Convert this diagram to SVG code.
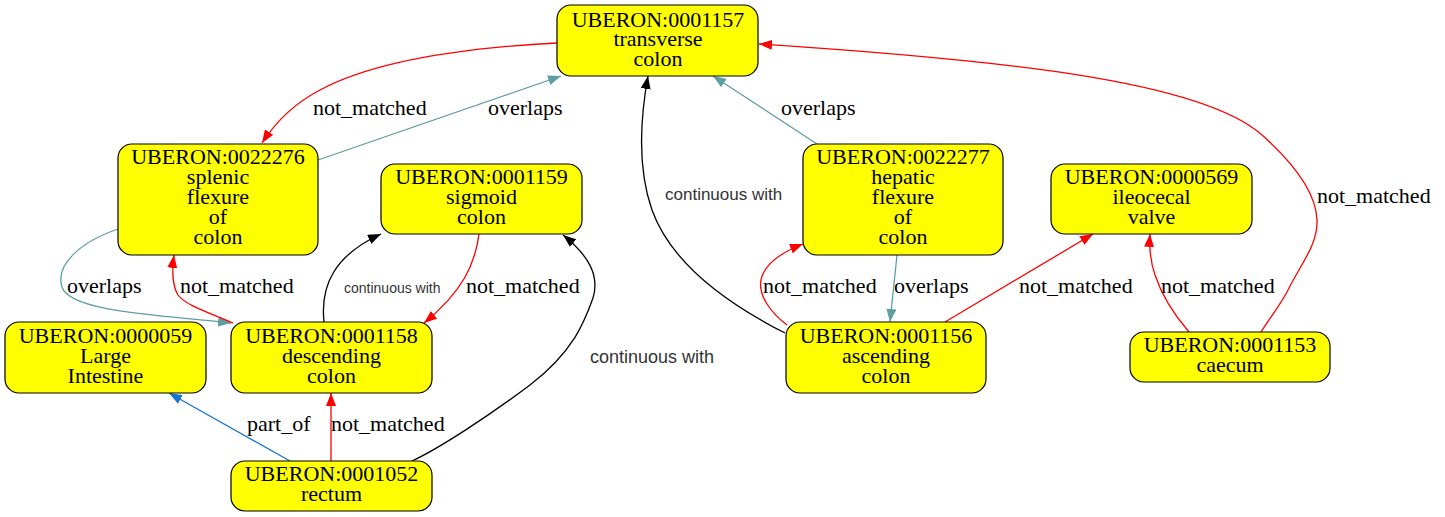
<svg xmlns="http://www.w3.org/2000/svg" width="1445" height="517" viewBox="0 0 1445 517">
<style>
.node rect{fill:#ffff00;stroke:#000;stroke-width:1.2}
.node text{font-family:"Liberation Serif","Times New Roman",serif;font-size:22px;text-anchor:middle;fill:#000}
.e{fill:none;stroke-width:1.3}
.red{stroke:#ff0000}
.teal{stroke:#5f9ea0}
.blk{stroke:#000}
.blue{stroke:#1874cd}
.lbl{font-family:"Liberation Serif","Times New Roman",serif;font-size:22px;fill:#000}
.cw{font-family:"Liberation Sans",Arial,sans-serif;fill:#333}
</style>
<defs>
<marker id="ar" viewBox="0 0 13 10" refX="13" refY="5" markerWidth="13" markerHeight="10" markerUnits="userSpaceOnUse" orient="auto"><path d="M0,0 L13,5 L0,10 z" fill="#ff0000"/></marker>
<marker id="at" viewBox="0 0 13 10" refX="13" refY="5" markerWidth="13" markerHeight="10" markerUnits="userSpaceOnUse" orient="auto"><path d="M0,0 L13,5 L0,10 z" fill="#5f9ea0"/></marker>
<marker id="ak" viewBox="0 0 13 10" refX="13" refY="5" markerWidth="13" markerHeight="10" markerUnits="userSpaceOnUse" orient="auto"><path d="M0,0 L13,5 L0,10 z" fill="#000"/></marker>
<marker id="ab" viewBox="0 0 13 10" refX="13" refY="5" markerWidth="13" markerHeight="10" markerUnits="userSpaceOnUse" orient="auto"><path d="M0,0 L13,5 L0,10 z" fill="#1874cd"/></marker>
</defs>
<rect width="1445" height="517" fill="#fff"/>
<g id="edges">
<path class="e red" marker-end="url(#ar)" d="M557,43 C480,47 380,58 320,90 C295,103 277,120 262,143"/>
<text class="lbl" x="313" y="115">not_matched</text>
<path class="e teal" marker-end="url(#at)" d="M318,160 L561,76"/>
<text class="lbl" x="488" y="115">overlaps</text>
<path class="e teal" marker-end="url(#at)" d="M118,229 C80,242 55,265 62,287 C70,312 160,315 231,323"/>
<text class="lbl" x="67" y="293">overlaps</text>
<path class="e red" marker-end="url(#ar)" d="M233,323 C210,313 185,305 178,295 C172,285 172,270 174,255"/>
<text class="lbl" x="180" y="293">not_matched</text>
<path class="e blk" marker-end="url(#ak)" d="M324,322 C320,285 335,255 381,234"/>
<text class="cw" x="344" y="293" font-size="14" fill="#555">continuous with</text>
<path class="e red" marker-end="url(#ar)" d="M479,234 C475,265 462,292 424,323"/>
<text class="lbl" x="466" y="293">not_matched</text>
<path class="e blue" marker-end="url(#ab)" d="M290,461 L169,393"/>
<text class="lbl" x="247" y="431">part_of</text>
<path class="e red" marker-end="url(#ar)" d="M331,461 L331,393"/>
<text class="lbl" x="331" y="431">not_matched</text>
<path class="e blk" marker-end="url(#ak)" d="M412,461 C440,448 490,415 530,385 C575,350 585,320 593,298 C600,275 588,255 563,235"/>
<text class="cw" x="590" y="363" font-size="18">continuous with</text>
<path class="e blk" marker-end="url(#ak)" d="M785,333 C720,300 670,260 652,210 C638,170 640,120 648,76"/>
<text class="cw" x="665" y="200" font-size="17">continuous with</text>
<path class="e teal" marker-end="url(#at)" d="M817,144 L713,76"/>
<text class="lbl" x="781" y="115">overlaps</text>
<path class="e red" marker-end="url(#ar)" d="M787,325 C770,312 758,295 761,280 C764,265 780,253 803,244"/>
<text class="lbl" x="763" y="293">not_matched</text>
<path class="e teal" marker-end="url(#at)" d="M897,255 L890,322"/>
<text class="lbl" x="894" y="293">overlaps</text>
<path class="e red" marker-end="url(#ar)" d="M945,322 L1093,234"/>
<text class="lbl" x="1019" y="293">not_matched</text>
<path class="e red" marker-end="url(#ar)" d="M1189,332 C1170,310 1160,290 1155,275 C1150,260 1149,248 1150,234"/>
<text class="lbl" x="1161" y="293">not_matched</text>
<path class="e red" marker-end="url(#ar)" d="M1261,332 C1270,318 1280,305 1287,292 C1300,265 1318,245 1317,220 C1316,190 1290,160 1262,135 C1200,80 1000,60 759,44"/>
<text class="lbl" x="1317" y="203">not_matched</text>
</g>
<g id="n1157" class="node"><rect x="557" y="5" width="201" height="71" rx="14"/><text x="658" y="26.5">UBERON:0001157</text><text x="658" y="46">transverse</text><text x="658" y="65.5">colon</text></g>
<g id="n22276" class="node"><rect x="118" y="144" width="200" height="111" rx="14"/><text x="218" y="164">UBERON:0022276</text><text x="218" y="184">splenic</text><text x="218" y="204">flexure</text><text x="218" y="224">of</text><text x="218" y="244">colon</text></g>
<g id="n1159" class="node"><rect x="381" y="164" width="201" height="70" rx="14"/><text x="481.5" y="184">UBERON:0001159</text><text x="481.5" y="204">sigmoid</text><text x="481.5" y="224">colon</text></g>
<g id="n22277" class="node"><rect x="803" y="144" width="200" height="111" rx="14"/><text x="903" y="164">UBERON:0022277</text><text x="903" y="184">hepatic</text><text x="903" y="204">flexure</text><text x="903" y="224">of</text><text x="903" y="244">colon</text></g>
<g id="n569" class="node"><rect x="1051" y="164" width="201" height="70" rx="14"/><text x="1151.5" y="184">UBERON:0000569</text><text x="1151.5" y="204">ileocecal</text><text x="1151.5" y="224">valve</text></g>
<g id="n59" class="node"><rect x="5" y="322" width="201" height="71" rx="14"/><text x="105.5" y="343">UBERON:0000059</text><text x="105.5" y="363">Large</text><text x="105.5" y="383">Intestine</text></g>
<g id="n1158" class="node"><rect x="231" y="322" width="201" height="71" rx="14"/><text x="331.5" y="343">UBERON:0001158</text><text x="331.5" y="363">descending</text><text x="331.5" y="383">colon</text></g>
<g id="n1156" class="node"><rect x="786" y="322" width="200" height="71" rx="14"/><text x="886" y="343">UBERON:0001156</text><text x="886" y="363">ascending</text><text x="886" y="383">colon</text></g>
<g id="n1153" class="node"><rect x="1130" y="332" width="200" height="50" rx="14"/><text x="1230" y="352">UBERON:0001153</text><text x="1230" y="372">caecum</text></g>
<g id="n1052" class="node"><rect x="231" y="461" width="201" height="50" rx="14"/><text x="331.5" y="481">UBERON:0001052</text><text x="331.5" y="501">rectum</text></g>
</svg>
